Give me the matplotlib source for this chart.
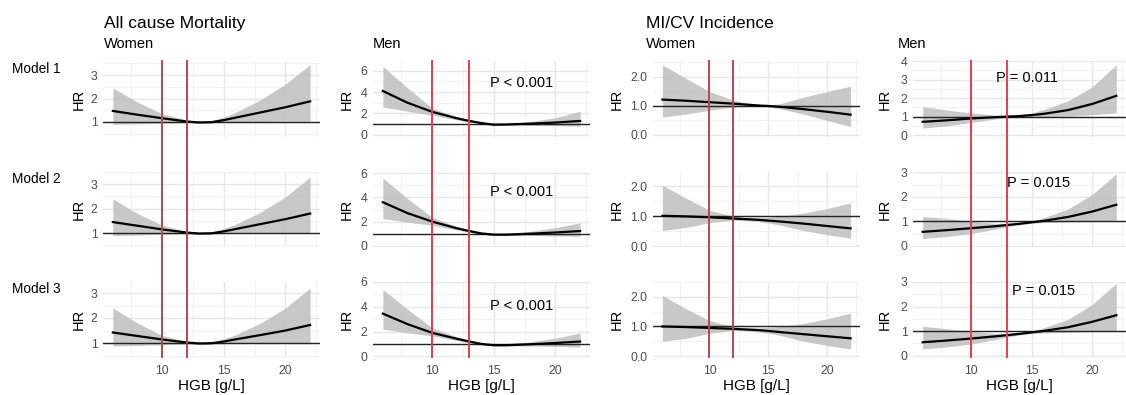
import matplotlib
matplotlib.use("Agg")
import matplotlib.pyplot as plt
import matplotlib.transforms as mtransforms
import numpy as np

plt.rcParams['font.family'] = ['Liberation Sans', 'DejaVu Sans']

hgb = [6, 8, 10, 12, 13, 14, 15, 16, 18, 20, 22]

# All cause mortality, women (Model 1, 2, 3)
mort_w_hr = [[1.47, 1.31, 1.16, 1.02, 0.98, 0.99, 1.08, 1.19, 1.41, 1.63, 1.88],
             [1.45, 1.30, 1.15, 1.02, 0.98, 0.99, 1.07, 1.17, 1.37, 1.57, 1.80],
             [1.42, 1.28, 1.14, 1.02, 0.98, 0.99, 1.06, 1.15, 1.32, 1.50, 1.72]]
mort_w_lo = [[0.90, 0.92, 0.95, 0.98, 0.96, 0.97, 0.99, 1.00, 1.02, 1.03, 1.03],
             [0.90, 0.92, 0.95, 0.97, 0.95, 0.96, 0.98, 0.99, 1.00, 1.02, 1.02],
             [0.88, 0.90, 0.93, 0.96, 0.95, 0.96, 0.97, 0.98, 0.99, 1.00, 1.00]]
mort_w_hi = [[2.45, 1.85, 1.35, 1.08, 1.02, 1.06, 1.20, 1.42, 1.95, 2.62, 3.45],
             [2.40, 1.80, 1.32, 1.07, 1.02, 1.05, 1.18, 1.37, 1.86, 2.48, 3.30],
             [2.40, 1.80, 1.30, 1.06, 1.01, 1.04, 1.16, 1.34, 1.80, 2.40, 3.20]]

# All cause mortality, men
mort_m_hr = [[4.10, 3.00, 2.15, 1.55, 1.30, 1.10, 0.95, 0.97, 1.05, 1.15, 1.30],
             [3.60, 2.70, 2.00, 1.45, 1.22, 1.02, 0.92, 0.92, 1.00, 1.10, 1.22],
             [3.45, 2.60, 1.90, 1.42, 1.20, 1.00, 0.90, 0.90, 0.98, 1.08, 1.20]]
mort_m_lo = [[2.60, 2.20, 1.85, 1.40, 1.20, 1.02, 0.90, 0.90, 0.88, 0.85, 0.80],
             [2.25, 1.95, 1.70, 1.30, 1.12, 0.95, 0.85, 0.85, 0.85, 0.82, 0.78],
             [2.20, 1.90, 1.65, 1.28, 1.10, 0.94, 0.84, 0.84, 0.84, 0.80, 0.75]]
mort_m_hi = [[6.40, 4.40, 2.50, 1.70, 1.42, 1.18, 1.00, 1.02, 1.25, 1.60, 2.20],
             [5.60, 3.90, 2.35, 1.60, 1.32, 1.10, 0.98, 1.00, 1.20, 1.50, 1.90],
             [5.40, 3.80, 2.30, 1.58, 1.30, 1.08, 0.97, 0.99, 1.18, 1.48, 1.88]]

# MI/CV incidence, women
mi_w_hr = [[1.22, 1.18, 1.13, 1.08, 1.05, 1.02, 1.00, 0.97, 0.89, 0.80, 0.70],
           [1.01, 0.99, 0.96, 0.92, 0.90, 0.88, 0.85, 0.82, 0.75, 0.67, 0.59],
           [1.00, 0.98, 0.95, 0.92, 0.90, 0.88, 0.85, 0.81, 0.74, 0.67, 0.60]]
mi_w_lo = [[0.62, 0.72, 0.85, 0.96, 0.98, 0.99, 0.97, 0.90, 0.72, 0.50, 0.29],
           [0.52, 0.62, 0.78, 0.86, 0.85, 0.82, 0.77, 0.70, 0.52, 0.38, 0.26],
           [0.50, 0.60, 0.77, 0.86, 0.85, 0.82, 0.77, 0.70, 0.50, 0.36, 0.24]]
mi_w_hi = [[2.42, 1.95, 1.50, 1.20, 1.12, 1.06, 1.03, 1.08, 1.30, 1.50, 1.68],
           [2.03, 1.60, 1.20, 0.99, 0.95, 0.95, 0.96, 1.00, 1.10, 1.25, 1.44],
           [2.05, 1.60, 1.20, 0.99, 0.95, 0.95, 0.96, 1.00, 1.10, 1.26, 1.45]]

# MI/CV incidence, men
mi_m_hr = [[0.72, 0.80, 0.90, 0.97, 1.00, 1.03, 1.08, 1.15, 1.35, 1.68, 2.12],
           [0.57, 0.64, 0.72, 0.80, 0.85, 0.90, 0.96, 1.02, 1.18, 1.40, 1.68],
           [0.55, 0.62, 0.70, 0.79, 0.84, 0.89, 0.95, 1.01, 1.16, 1.38, 1.65]]
mi_m_lo = [[0.38, 0.50, 0.68, 0.87, 0.95, 0.98, 0.99, 1.00, 1.03, 1.10, 1.20],
           [0.30, 0.38, 0.50, 0.68, 0.78, 0.86, 0.92, 0.95, 0.98, 1.00, 1.05],
           [0.28, 0.36, 0.48, 0.66, 0.76, 0.85, 0.90, 0.93, 0.96, 0.98, 1.00]]
mi_m_hi = [[1.55, 1.35, 1.20, 1.08, 1.05, 1.10, 1.20, 1.38, 1.85, 2.60, 3.80],
           [1.20, 1.12, 1.00, 0.92, 0.92, 0.95, 1.00, 1.15, 1.50, 2.10, 2.95],
           [1.20, 1.10, 0.98, 0.91, 0.91, 0.94, 1.00, 1.14, 1.48, 2.08, 2.95]]

# HGB cut-offs (women 10/12, men 10/13)
cut_women = [10, 12]
cut_men = [10, 13]

p_mort_men = ["P < 0.001", "P < 0.001", "P < 0.001"]
p_mi_men = ["P = 0.011", "P = 0.015", "P = 0.015"]
models = ["Model 1", "Model 2", "Model 3"]

W, H = 1126, 395
fig = plt.figure(figsize=(W / 100, H / 100), dpi=100)

def fx(px):
    return px / W

def fy(py):
    return 1 - py / H

col_left = [103, 373, 653, 913]
col_right = [320, 590, 860, 1126]
row_top = [61, 172, 282]
row_bot = [137, 247, 357]

cols = [
    dict(hr=mort_w_hr, lo=mort_w_lo, hi=mort_w_hi, cuts=cut_women, red='#B4455A',
         yt=[[1, 2, 3]] * 3, ylim=[(0.36, 3.6), (0.43, 3.5), (0.44, 3.44)],
         fmt='{:.0f}', ptxt=None, hrx=79),
    dict(hr=mort_m_hr, lo=mort_m_lo, hi=mort_m_hi, cuts=cut_men, red='#E2404A',
         yt=[[0, 2, 4, 6]] * 3, ylim=[(-0.2, 6.9), (-0.1, 6.1), (-0.05, 6.0)],
         fmt='{:.0f}', ptxt=p_mort_men, ppos=[(522, 83), (522, 192), (522, 306)], hrx=347),
    dict(hr=mi_w_hr, lo=mi_w_lo, hi=mi_w_hi, cuts=cut_women, red='#B4455A',
         yt=[[0, 1, 2]] * 3, ylim=[(-0.07, 2.55), (-0.03, 2.47), (-0.03, 2.5)],
         fmt='{:.1f}', ptxt=None, hrx=617),
    dict(hr=mi_m_hr, lo=mi_m_lo, hi=mi_m_hi, cuts=cut_men, red='#E2404A',
         yt=[[0, 1, 2, 3, 4], [0, 1, 2, 3], [0, 1, 2, 3]],
         ylim=[(-0.1, 4.0), (-0.05, 3.02), (-0.05, 3.0)],
         fmt='{:.0f}', ptxt=p_mi_men, ppos=[(1027, 78), (1039, 183), (1044, 291)], hrx=885),
]

for c, col in enumerate(cols):
    bottom_ax = None
    for r in range(3):
        ax = fig.add_axes([fx(col_left[c]), fy(row_bot[r]),
                           fx(col_right[c] - col_left[c]), (row_bot[r] - row_top[r]) / H])
        ax.fill_between(hgb, col['lo'][r], col['hi'][r], color='#C2C2C2', alpha=0.9,
                        lw=0, zorder=2)
        ax.plot(hgb, col['hr'][r], color='black', lw=1.6, zorder=3)
        ax.axhline(1, color='#222222', lw=1.0, zorder=2.5)
        ax.set_xlim(5.2, 22.8)
        ax.set_xticks([10, 15, 20])
        ax.set_xticks([7.5, 12.5, 17.5, 22.5], minor=True)
        yt = col['yt'][r]
        step = yt[1] - yt[0]
        ax.set_yticks(yt)
        ax.set_yticklabels([col['fmt'].format(v) for v in yt])
        ax.set_yticks([v + step / 2 for v in [yt[0] - step] + yt], minor=True)
        ax.set_ylim(*col['ylim'][r])
        ax.grid(which='major', color='#E6E6E6', lw=1.0, zorder=0)
        ax.grid(which='minor', color='#F1F1F1', lw=0.7, zorder=0)
        ax.set_axisbelow(True)
        for s in ax.spines.values():
            s.set_visible(False)
        ax.tick_params(which='both', length=0, labelsize=8.8, labelcolor='#4D4D4D', pad=4)
        if r < 2:
            ax.tick_params(axis='x', labelbottom=False)
        else:
            ax.tick_params(axis='x', pad=6)
            bottom_ax = ax
        fig.text(fx(col['hrx']), fy((row_top[r] + row_bot[r]) / 2), 'HR', rotation=90,
                 ha='center', va='center', fontsize=10.5)
        if col['ptxt'] is not None:
            px, py = col['ppos'][r]
            fig.text(fx(px), fy(py), col['ptxt'][r], ha='center', va='center', fontsize=10.5)
    # cut-off lines running through all three model rows
    trans = mtransforms.blended_transform_factory(bottom_ax.transData, fig.transFigure)
    for xc in col['cuts']:
        fig.add_artist(plt.Line2D([xc, xc], [fy(row_top[0]), fy(row_bot[2])],
                                  transform=trans, color=col['red'], lw=1.4, zorder=10))
    fig.text(fx((col_left[c] + col_right[c]) / 2), fy(386), 'HGB [g/L]',
             ha='center', va='center', fontsize=11)

fig.text(fx(104), fy(28), 'All cause Mortality', fontsize=12.5, ha='left', va='baseline')
fig.text(fx(646), fy(28), 'MI/CV Incidence', fontsize=12.5, ha='left', va='baseline')
for x0, lab in zip([104, 373, 646, 898], ['Women', 'Men', 'Women', 'Men']):
    fig.text(fx(x0), fy(48), lab, fontsize=10.5, ha='left', va='baseline')
for r, m in enumerate(models):
    fig.text(fx(12), fy([73, 183, 293][r]), m, fontsize=9.8, ha='left', va='baseline')

fig.savefig('out.png', dpi=100)
